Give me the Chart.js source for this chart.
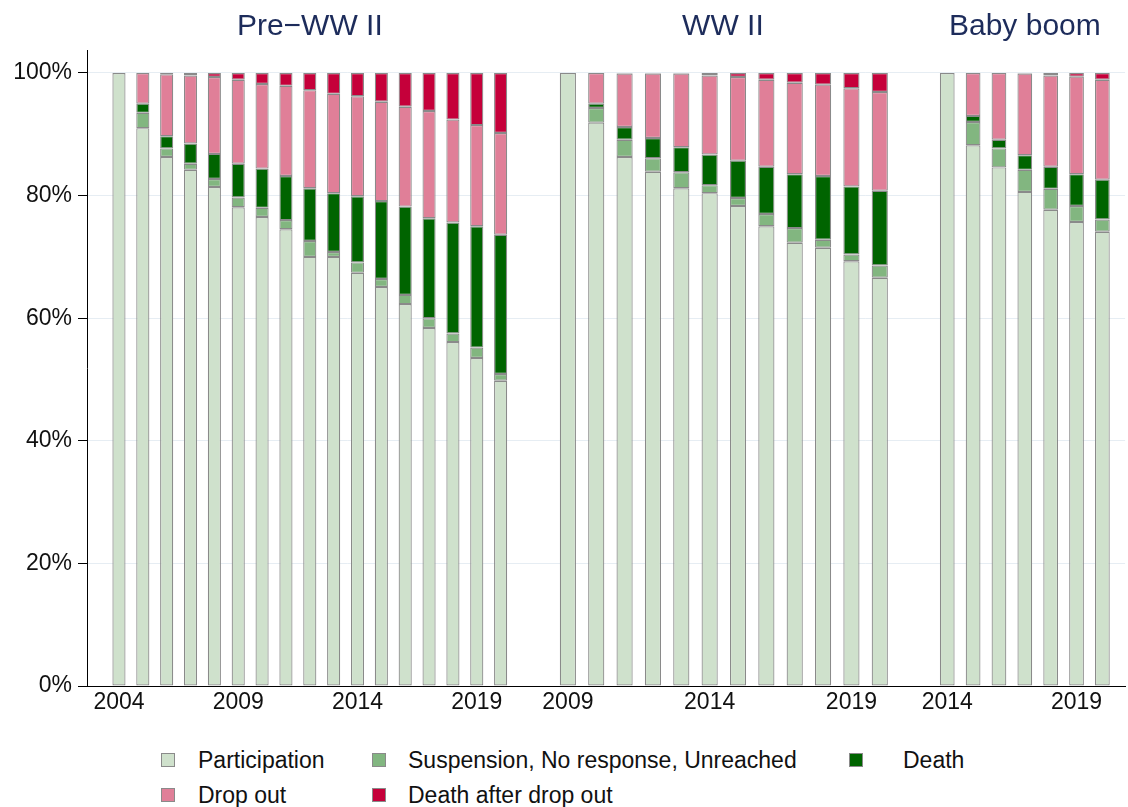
<!DOCTYPE html>
<html>
<head>
<meta charset="utf-8">
<script src="https://cdn.jsdelivr.net/npm/chart.js@4.4.1/dist/chart.umd.min.js"></script>
<style>
html,body{margin:0;padding:0;background:#ffffff;}
#wrap{position:relative;width:1128px;height:807px;font-family:"Liberation Sans",Arial,Helvetica,sans-serif;color:#111;}
#box{position:absolute;left:0;top:0;width:1128px;height:730px;}
.lk{position:absolute;width:12px;height:12px;border:1.5px solid #8a8a8a;}
.lt{position:absolute;height:30px;line-height:30px;font-size:23px;white-space:nowrap;color:#111;}
</style>
</head>
<body>
<div id="wrap">
  <div id="box"><canvas id="c"></canvas></div>
  <div id="legend"></div>
</div>
<script>
// ---- categories / labels ----
const seriesNames = ['Participation', 'Suspension, No response, Unreached', 'Death', 'Drop out', 'Death after drop out'];
const seriesColors = ['#cfe1cc', '#82b680', '#006400', '#e07f98', '#c5003a'];
const panelTitles = ['Pre\u2212WW II', 'WW II', 'Baby boom'];

// ---- Pre-WW II cohort ----
const preYears = [2004, 2005, 2006, 2007, 2008, 2009, 2010, 2011, 2012, 2013, 2014, 2015, 2016, 2017, 2018, 2019, 2020];
const preParticipation = [100, 91.0, 86.3, 84.2, 81.4, 78.1, 76.5, 74.5, 70.0, 70.0, 67.4, 65.1, 62.3, 58.4, 56.1, 53.5, 49.8];
const preSuspension    = [0, 2.5, 1.4, 1.0, 1.3, 1.6, 1.5, 1.5, 2.6, 0.8, 1.7, 1.3, 1.5, 1.6, 1.4, 1.7, 1.1];
const preDeath         = [0, 1.5, 2.0, 3.3, 4.1, 5.5, 6.4, 7.2, 8.6, 9.6, 10.8, 12.7, 14.4, 16.3, 18.1, 19.8, 22.7];
const preDropOut       = [0, 5.0, 10.1, 11.1, 12.55, 13.7, 13.8, 14.7, 16.0, 16.2, 16.3, 16.2, 16.3, 17.5, 16.8, 16.5, 16.6];
const preDeathAfterDO  = [0, 0, 0.2, 0.4, 0.65, 1.1, 1.8, 2.1, 2.8, 3.4, 3.8, 4.7, 5.5, 6.2, 7.6, 8.5, 9.8];
const preTicks = [2004, 2009, 2014, 2019];

// ---- WW II cohort ----
const wwYears = [2009, 2010, 2011, 2012, 2013, 2014, 2015, 2016, 2017, 2018, 2019, 2020];
const wwParticipation = [100, 91.9, 86.3, 83.9, 81.2, 80.4, 78.3, 75.0, 72.3, 71.5, 69.3, 66.6];
const wwSuspension    = [0, 2.4, 2.8, 2.2, 2.6, 1.3, 1.3, 2.0, 2.4, 1.3, 1.1, 2.0];
const wwDeath         = [0, 0.7, 2.1, 3.3, 4.1, 5.0, 6.1, 7.7, 8.8, 10.4, 11.1, 12.2];
const wwDropOut       = [0, 5.0, 8.7, 10.5, 12.0, 12.9, 13.65, 14.2, 14.9, 14.9, 16.0, 16.1];
const wwDeathAfterDO  = [0, 0, 0.1, 0.1, 0.1, 0.4, 0.65, 1.1, 1.6, 1.9, 2.5, 3.1];
const wwTicks = [2009, 2014, 2019];

// ---- Baby boom cohort ----
const bbYears = [2014, 2015, 2016, 2017, 2018, 2019, 2020];
const bbParticipation = [100, 88.2, 84.6, 80.6, 77.7, 75.7, 74.1];
const bbSuspension    = [0, 3.8, 3.1, 3.6, 3.4, 2.6, 2.0];
const bbDeath         = [0, 1.0, 1.4, 2.4, 3.6, 5.2, 6.5];
const bbDropOut       = [0, 7.0, 10.9, 13.3, 14.9, 15.9, 16.3];
const bbDeathAfterDO  = [0, 0, 0, 0.1, 0.4, 0.6, 1.1];
const bbTicks = [2014, 2019];

const yTicks = [0, 20, 40, 60, 80, 100];

// ---- build chart ----
const FONT = '"Liberation Sans", Arial, Helvetica, sans-serif';
const panels = [
  {id: 'x1', years: preYears, series: [preParticipation, preSuspension, preDeath, preDropOut, preDeathAfterDO], ticks: preTicks},
  {id: 'x2', years: wwYears,  series: [wwParticipation, wwSuspension, wwDeath, wwDropOut, wwDeathAfterDO], ticks: wwTicks},
  {id: 'x3', years: bbYears,  series: [bbParticipation, bbSuspension, bbDeath, bbDropOut, bbDeathAfterDO], ticks: bbTicks}
];
const panelLayout = {
  x1: {min: 2002.660, max: 2021.341, weight: 446, barPct: 0.55},
  x2: {min: 2007.756, max: 2021.181, weight: 381, barPct: 0.57},
  x3: {min: 2012.686, max: 2020.878, weight: 212, barPct: 0.57}
};

const datasets = [];
panels.forEach(p => {
  p.series.forEach((vals, si) => {
    datasets.push({
      label: seriesNames[si],
      xAxisID: p.id,
      yAxisID: 'y',
      stack: p.id,
      grouped: false,
      data: p.years.map((yr, i) => ({x: yr, y: vals[i]})),
      backgroundColor: seriesColors[si],
      borderColor: '#8a8a8a',
      borderWidth: 1.2,
      borderSkipped: false,
      categoryPercentage: 1,
      barPercentage: panelLayout[p.id].barPct
    });
  });
});

const scales = {
  y: {
    type: 'linear', position: 'left', stacked: true, min: 0, max: 103.75,
    afterBuildTicks: s => { s.ticks = yTicks.map(v => ({value: v})); },
    ticks: {callback: v => v + '%', font: {size: 23, family: FONT}, color: '#111', padding: 6},
    grid: {color: '#e6edf3', tickColor: '#000', tickLength: 9, lineWidth: 1},
    border: {color: '#000', width: 1},
    afterFit: s => { s.width = 87; }
  }
};
panels.forEach(p => {
  const L = panelLayout[p.id];
  scales[p.id] = {
    type: 'linear', position: 'bottom', stack: 'bottomStack', stackWeight: L.weight,
    stacked: true, offset: false, min: L.min, max: L.max,
    afterBuildTicks: s => { s.ticks = p.ticks.map(v => ({value: v})); },
    ticks: {callback: v => String(v), font: {size: 23, family: FONT}, color: '#111', padding: 3, maxRotation: 0, autoSkip: false},
    grid: {display: false, drawTicks: false},
    border: {color: '#000', width: 1},
    afterFit: s => { s.height = 44; }
  };
});
// top axes that carry the panel titles (top boxes are laid out right-to-left, so listed in reverse)
const topDefs = [
  {id: 't3', weight: 200.6, title: panelTitles[2]},
  {id: 'tgap', weight: 11.4, title: ''},
  {id: 't2', weight: 381, title: panelTitles[1]},
  {id: 't1', weight: 446, title: panelTitles[0]}
];
topDefs.forEach(t => {
  scales[t.id] = {
    type: 'linear', position: 'top', stack: 'topStack', stackWeight: t.weight, min: 0, max: 1,
    ticks: {display: false},
    grid: {display: false, drawTicks: false},
    border: {display: false},
    title: {display: t.title !== '', text: t.title, font: {size: 30, family: FONT}, color: '#1d2c5b', padding: {top: 9, bottom: 0}},
    afterFit: s => { s.height = 50; }
  };
});

new Chart(document.getElementById('c'), {
  type: 'bar',
  data: {datasets},
  options: {
    responsive: true,
    maintainAspectRatio: false,
    animation: false,
    layout: {padding: {left: 0, right: 2, top: 0, bottom: 0}},
    plugins: {legend: {display: false}, tooltip: {enabled: false}, title: {display: false}},
    scales
  }
});

// ---- legend (HTML, built from series names/colours) ----
const legendCols = [161, 372, 849];
const legendTextCols = [198, 408, 903];
const legendRows = [760, 795];
const legendOrder = [[0, 0, 0], [1, 0, 1], [2, 0, 2], [3, 1, 0], [4, 1, 1]];
const lg = document.getElementById('legend');
legendOrder.forEach(([si, r, c]) => {
  const k = document.createElement('div');
  k.className = 'lk';
  k.style.left = legendCols[c] + 'px';
  k.style.top = (legendRows[r] - 7.5) + 'px';
  k.style.background = seriesColors[si];
  lg.appendChild(k);
  const t = document.createElement('div');
  t.className = 'lt';
  t.style.left = legendTextCols[c] + 'px';
  t.style.top = (legendRows[r] - 15) + 'px';
  t.textContent = seriesNames[si];
  lg.appendChild(t);
});
</script>
</body>
</html>
